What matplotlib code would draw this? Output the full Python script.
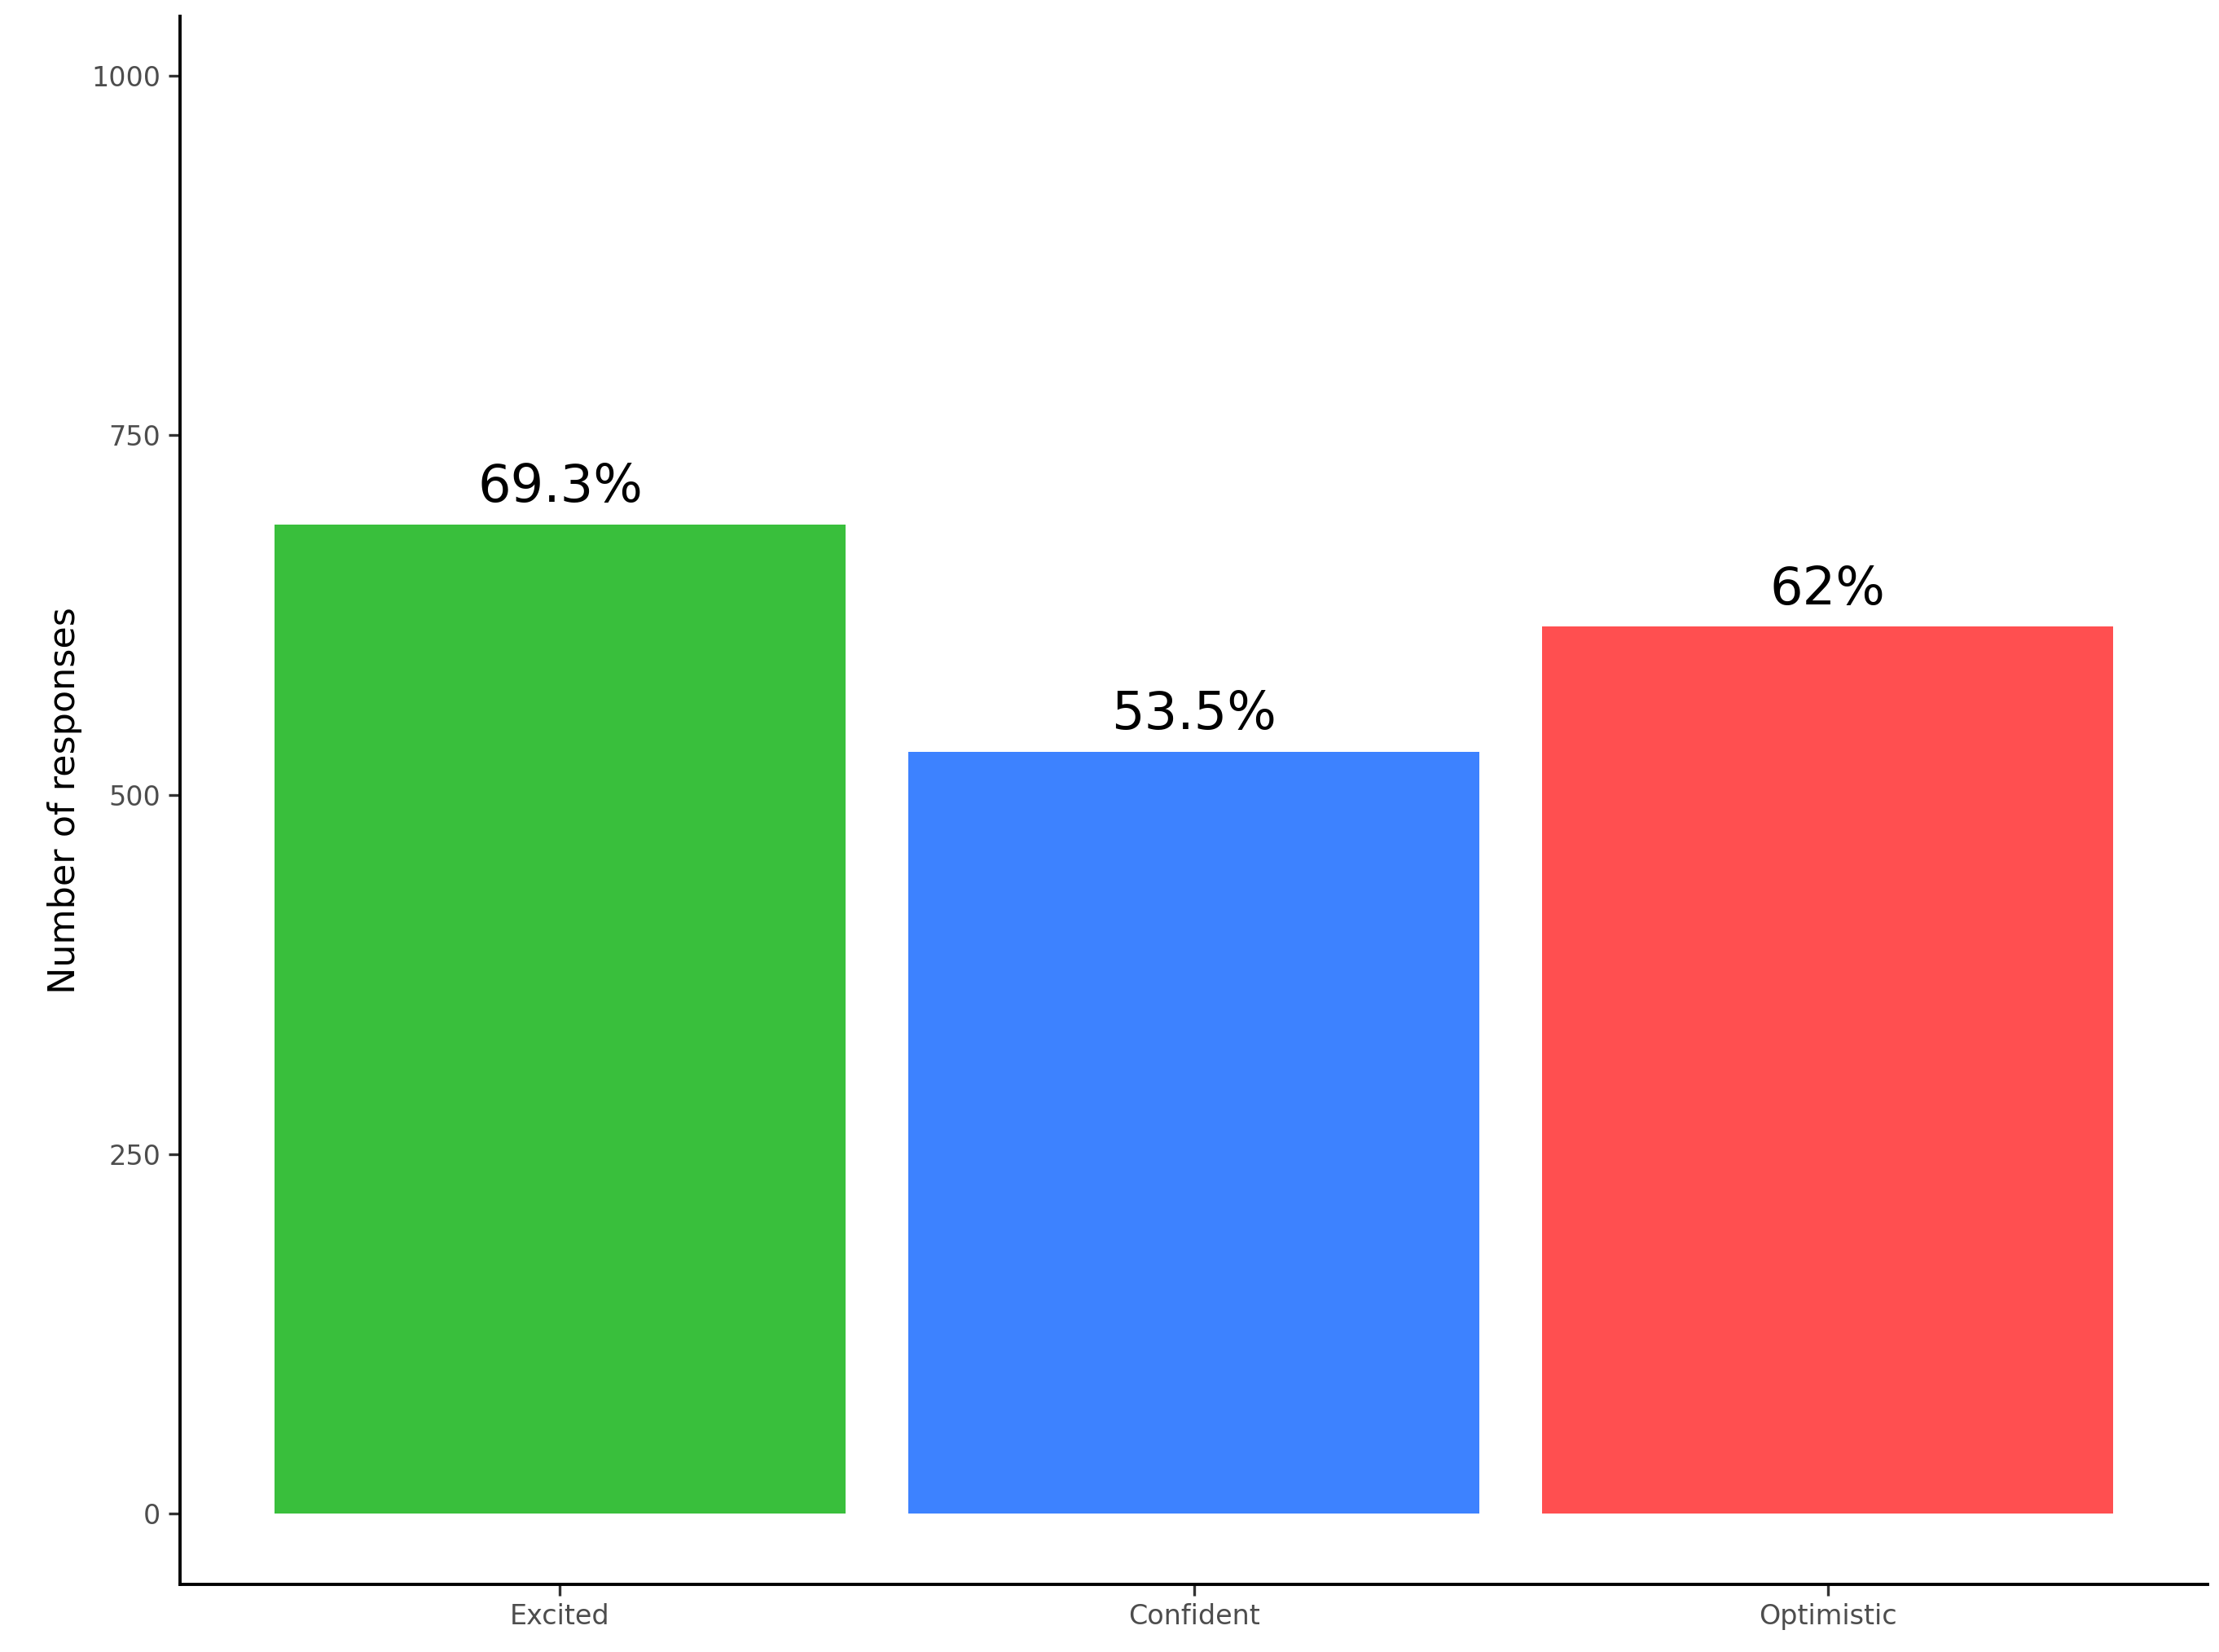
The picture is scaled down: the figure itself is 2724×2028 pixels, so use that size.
import matplotlib
matplotlib.use("Agg")
import matplotlib.pyplot as plt

categories = ["Excited", "Confident", "Optimistic"]
counts = [688, 530, 617]
labels = ["69.3%", "53.5%", "62%"]
colors = ["#39BF3C", "#3D82FF", "#FF4F50"]
yticks = [0, 250, 500, 750, 1000]

fig = plt.figure(figsize=(13.62, 10.14), dpi=200)
ax = fig.add_axes([0.081, 0.041, 0.914, 0.949])
x = list(range(1, len(categories) + 1))
ax.bar(x, counts, width=0.9, color=colors)
for xi, c, l in zip(x, counts, labels):
    ax.text(xi, c + 8, l, ha="center", va="bottom", fontsize=23, color="black")
ax.set_xlim(0.4, 3.6)
ax.set_ylim(-49, 1041)
ax.set_xticks(x)
ax.set_xticklabels(categories)
ax.set_yticks(yticks)
ax.tick_params(labelsize=12, labelcolor="#4d4d4d", length=5, width=1.2, color="#333333")
ax.set_ylabel("Number of responses", fontsize=16)
for s in ["top", "right"]:
    ax.spines[s].set_visible(False)
for s in ["left", "bottom"]:
    ax.spines[s].set_linewidth(1.4)
fig.savefig("out.png", dpi=200)
